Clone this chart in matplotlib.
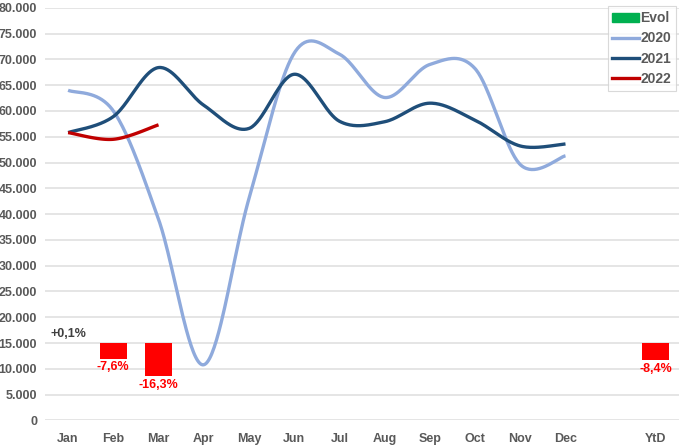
import numpy as np
import matplotlib.pyplot as plt
from matplotlib.patches import Patch
from matplotlib.lines import Line2D

plt.rcParams['font.family'] = ['Liberation Sans', 'DejaVu Sans']

# categories (empty slot between Dec and YtD)
categories = ['Jan', 'Feb', 'Mar', 'Apr', 'May', 'Jun', 'Jul', 'Aug', 'Sep', 'Oct', 'Nov', 'Dec', '', 'YtD']

v2020 = [64000, 60000, 39000, 10800, 43000, 71200, 71000, 62600, 69000, 68200, 49600, 51300]
v2021 = [55800, 58900, 68400, 61100, 56600, 67100, 58000, 57900, 61500, 58200, 53200, 53600]
v2022 = [55800, 54500, 57300]

# evolution 2022 vs 2021, in percent
evol_pos = [0, 1, 2, 13]
evol_pct = [0.1, -7.6, -16.3, -8.4]
evol_labels = ['+0,1%', '-7,6%', '-16,3%', '-8,4%']
evol_base = 15000
evol_scale = 395  # units per percent point


def smooth(y, n=40):
    # Excel-style smoothed line (Catmull-Rom through the points)
    y = np.asarray(y, float)
    x = np.arange(len(y), dtype=float)
    xs, ys = [], []
    for i in range(len(y) - 1):
        x0, y0 = x[max(i - 1, 0)], y[max(i - 1, 0)]
        x3, y3 = x[min(i + 2, len(y) - 1)], y[min(i + 2, len(y) - 1)]
        p0 = np.array([x[i], y[i]])
        p3 = np.array([x[i + 1], y[i + 1]])
        c1 = p0 + (p3 - np.array([x0, y0])) / 6
        c2 = p3 - (np.array([x3, y3]) - p0) / 6
        t = np.linspace(0, 1, n)[:, None]
        pts = (1 - t) ** 3 * p0 + 3 * (1 - t) ** 2 * t * c1 + 3 * (1 - t) * t ** 2 * c2 + t ** 3 * p3
        xs.extend(pts[:, 0])
        ys.extend(pts[:, 1])
    return np.array(xs), np.array(ys)


fig = plt.figure(figsize=(6.84, 4.46), dpi=100)
ax = fig.add_axes([0.0665, 0.0572, 0.9255, 0.9255])

c2020 = '#8FAADC'
c2021 = '#1F4E79'
c2022 = '#C00000'
grey = '#595959'

# evolution bars
for p, pct, lab in zip(evol_pos, evol_pct, evol_labels):
    h = pct * evol_scale
    if pct >= 0:
        ax.bar(p, max(h, 60), bottom=evol_base, width=0.6, color='#00B050', alpha=0.35, zorder=2)
        ax.text(p, evol_base + max(h, 0) + 500, lab, ha='center', va='bottom',
                fontsize=9, fontweight='bold', color='#404040')
    else:
        ax.bar(p, h, bottom=evol_base, width=0.6, color='#FF0000', zorder=2)
        ax.text(p, evol_base + h - 450, lab, ha='center', va='top',
                fontsize=9, fontweight='bold', color='#FF0000')

for vals, col in [(v2020, c2020), (v2021, c2021), (v2022, c2022)]:
    sx, sy = smooth(vals)
    ax.plot(sx, sy, color=col, lw=2.4, solid_capstyle='butt', zorder=3)

ax.set_xlim(-0.5, len(categories) - 0.5)
ax.set_ylim(0, 80000)
ax.set_xticks(range(len(categories)))
ax.set_xticklabels(categories)
yt = np.arange(0, 80001, 5000)
ax.set_yticks(yt)
ax.set_yticklabels(['0' if v == 0 else f'{v // 1000}.000' for v in yt])
ax.tick_params(length=0, labelsize=9, labelcolor=grey, pad=6)
ax.tick_params(axis='x', pad=9)
for lbl in ax.get_xticklabels() + ax.get_yticklabels():
    lbl.set_fontweight('bold')
ax.grid(axis='y', color='#E3E3E3', lw=1.3, zorder=0)
ax.set_axisbelow(True)
for s in ax.spines.values():
    s.set_visible(False)

handles = [Patch(color='#00B050'),
           Line2D([], [], color=c2020, lw=2.4),
           Line2D([], [], color=c2021, lw=2.4),
           Line2D([], [], color=c2022, lw=2.4)]
leg = ax.legend(handles, ['Evol', '2020', '2021', '2022'], loc='upper right',
                bbox_to_anchor=(1.0, 1.01), frameon=True, fancybox=False,
                edgecolor='#D0D0D0', fontsize=10, handlelength=1.9, handleheight=0.6,
                handletextpad=0.1, borderpad=0.35, labelspacing=0.45, borderaxespad=0.2)
leg.get_frame().set_linewidth(0.8)
for t in leg.get_texts():
    t.set_fontweight('bold')
    t.set_color(grey)

fig.savefig('out.png', dpi=100)
